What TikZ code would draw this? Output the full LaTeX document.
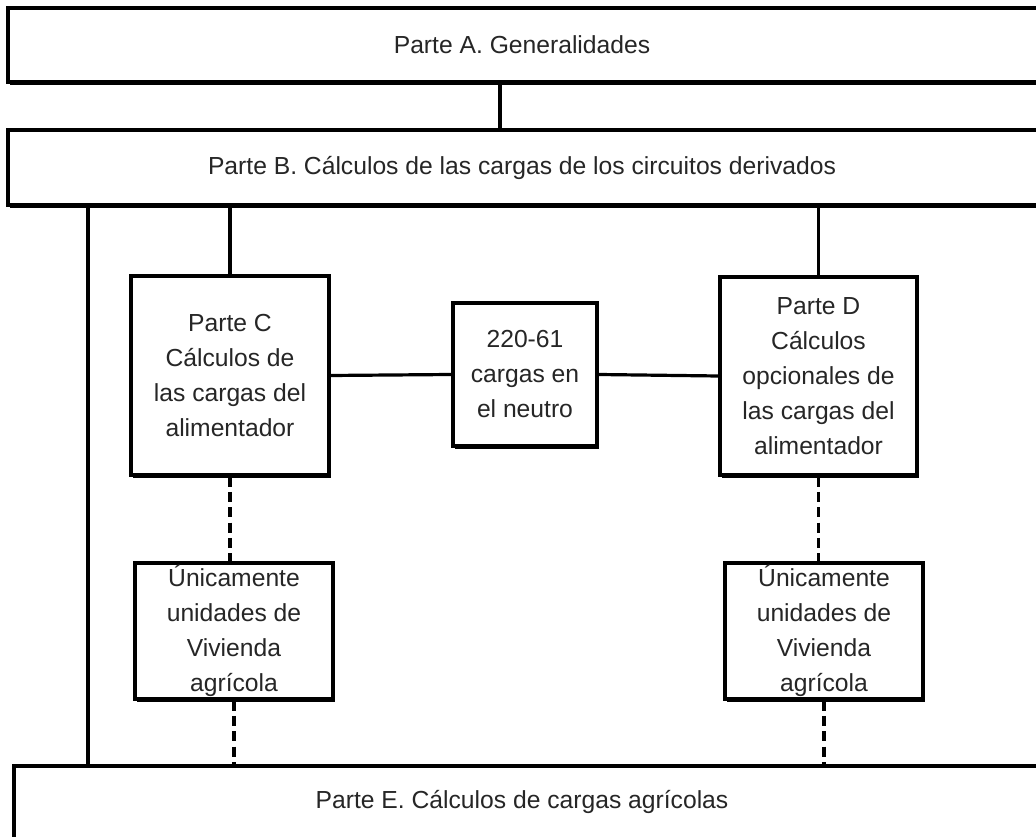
\documentclass[tikz,border=0pt]{standalone}
\usepackage{fontspec}
\setmainfont{Liberation Sans}
\usetikzlibrary{shadows}
\begin{document}
\begin{tikzpicture}[x=0.75pt,y=-0.75pt,
  box/.style={draw=black, line width=2.4pt, fill=white, inner sep=0pt, align=center,
    text=black!85, font=\fontsize{18.5pt}{26.25pt}\selectfont,
    drop shadow={shadow xshift=1.6pt, shadow yshift=-2.2pt, fill=black, opacity=1}},
  lbl/.style={text=black!85, font=\fontsize{18.5pt}{26.25pt}\selectfont},
  link/.style={line width=2.4pt, black},
  dlink/.style={line width=2.4pt, black, dash pattern=on 7.5pt off 4pt}]
\useasboundingbox (0,0) rectangle (1036,837);
\begin{scope}
\clip (0,0) rectangle (1036,837);
\node[box, minimum width={1034*0.75pt}, minimum height={74*0.75pt}] (A) at (525,45) {};
\node[box, minimum width={1034*0.75pt}, minimum height={75*0.75pt}] (B) at (525,167.5) {};
\node[box, minimum width={1030*0.75pt}, minimum height={80*0.75pt}] (E) at (529,806) {};
\end{scope}
\node[lbl] (At) at (522,45) {Parte A. Generalidades};
\node[lbl] (Bt) at (522,167.5) {Parte B. Cálculos de las cargas de los circuitos derivados};
\node[lbl] (Et) at (522,802) {Parte E. Cálculos de cargas agrícolas};

\node[box, minimum width={198*0.75pt}, minimum height={199*0.75pt}] (C) at (230,375.5)
  {Parte C\\Cálculos de\\las cargas del\\alimentador};
\node[box, minimum width={144*0.75pt}, minimum height={143*0.75pt}] (N) at (525,374.5)
  {220-61\\cargas en\\el neutro};
\node[box, minimum width={197*0.75pt}, minimum height={198*0.75pt}] (D) at (818.5,376)
  {Parte D\\Cálculos\\opcionales de\\las cargas del\\alimentador};
\node[box, minimum width={198*0.75pt}, minimum height={136*0.75pt}] (LC) at (234,631)
  {Únicamente\\unidades de\\Vivienda\\agrícola};
\node[box, minimum width={198*0.75pt}, minimum height={136*0.75pt}] (LD) at (824,631)
  {Únicamente\\unidades de\\Vivienda\\agrícola};

\coordinate (ab) at (500,0);
\coordinate (be) at (88,0);
\draw[link] (A.south -| ab) -- (B.north -| ab);
\draw[link] (B.south -| C.north) -- (C.north);
\draw[link] (B.south -| D.north) -- (D.north);
\draw[link] (B.south -| be) -- (E.north -| be);
\draw[link] (C.east) -- (N.west);
\draw[link] (N.east) -- (D.west);
\draw[dlink] (C.south) -- (C.south |- LC.north);
\draw[dlink] (D.south) -- (D.south |- LD.north);
\draw[dlink] (LC.south) -- (LC.south |- E.north);
\draw[dlink] (LD.south) -- (LD.south |- E.north);
\end{tikzpicture}
\end{document}
